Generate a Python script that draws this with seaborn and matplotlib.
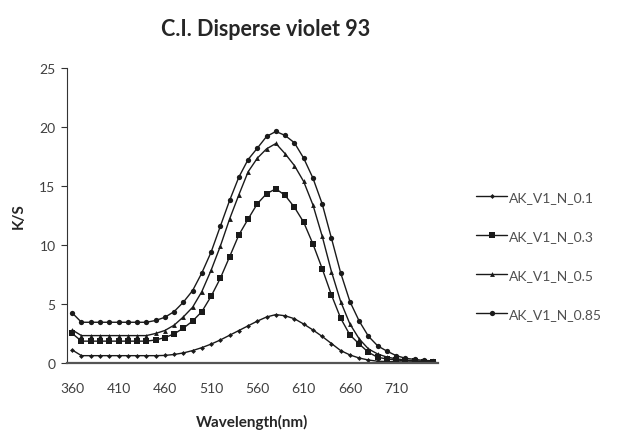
import numpy as np
import pandas as pd
import seaborn as sns
import matplotlib.pyplot as plt

# K/S spectra, 360-750 nm every 10 nm
wavelength = list(range(360, 760, 10))

ks_01 = [1.1, 0.62, 0.62, 0.62, 0.62, 0.62, 0.62, 0.62, 0.62, 0.62,
         0.64, 0.72, 0.85, 1.05, 1.3, 1.6, 1.95, 2.35, 2.75, 3.15,
         3.55, 3.9, 4.1, 4.0, 3.75, 3.3, 2.8, 2.25, 1.65, 1.05,
         0.68, 0.42, 0.25, 0.15, 0.12, 0.1, 0.08, 0.07, 0.06, 0.05]

ks_03 = [2.5, 1.85, 1.85, 1.85, 1.85, 1.85, 1.85, 1.85, 1.85, 1.95,
         2.15, 2.46, 2.95, 3.55, 4.35, 5.65, 7.18, 9.0, 10.85, 12.2,
         13.5, 14.35, 14.76, 14.2, 13.2, 11.93, 10.09, 8.0, 5.77, 3.79,
         2.37, 1.61, 0.9, 0.48, 0.34, 0.25, 0.2, 0.15, 0.12, 0.1]

ks_05 = [2.8, 2.32, 2.32, 2.32, 2.32, 2.32, 2.32, 2.32, 2.32, 2.5,
         2.75, 3.2, 3.9, 4.72, 6.05, 7.85, 9.9, 12.2, 14.25, 16.2,
         17.36, 18.15, 18.6, 17.73, 16.73, 15.38, 13.4, 10.75, 7.75, 5.2,
         3.3, 2.04, 1.19, 0.76, 0.5, 0.35, 0.25, 0.18, 0.14, 0.12]

ks_085 = [4.24, 3.45, 3.45, 3.45, 3.45, 3.45, 3.45, 3.45, 3.45, 3.6,
          3.87, 4.35, 5.15, 6.13, 7.63, 9.39, 11.59, 13.77, 15.75, 17.24,
          18.21, 19.2, 19.62, 19.28, 18.66, 17.36, 15.67, 13.49, 10.58, 7.63,
          5.2, 3.55, 2.26, 1.45, 1.0, 0.62, 0.4, 0.3, 0.22, 0.18]

labels = ["AK_V1_N_0.1", "AK_V1_N_0.3", "AK_V1_N_0.5", "AK_V1_N_0.85"]

df = pd.concat([
    pd.DataFrame({"wl": wavelength, "ks": vals, "sample": name})
    for name, vals in zip(labels, [ks_01, ks_03, ks_05, ks_085])
])

sns.set_style("white")
plt.rcParams["font.family"] = ["Lato", "DejaVu Sans"]

fig = plt.figure(figsize=(6.26, 4.31), dpi=100)
ax = fig.add_axes([0.1065, 0.1555, 0.593, 0.6845])

markers = {"AK_V1_N_0.1": "D", "AK_V1_N_0.3": "s",
           "AK_V1_N_0.5": "^", "AK_V1_N_0.85": "o"}
sizes = {"AK_V1_N_0.1": 2.5, "AK_V1_N_0.3": 4.5,
         "AK_V1_N_0.5": 3.5, "AK_V1_N_0.85": 3.8}

for name in labels:
    sub = df[df["sample"] == name]
    sns.lineplot(data=sub, x="wl", y="ks", ax=ax, color="#1a1a1a",
                 linewidth=1.0, marker=markers[name], markersize=sizes[name],
                 markeredgewidth=0, label=name)

ax.set_xlim(354, 755)
ax.set_ylim(0, 25)
ax.set_xticks(list(range(360, 720, 50)))
ax.set_yticks([0, 5, 10, 15, 20, 25])

for s in ["top", "right"]:
    ax.spines[s].set_visible(False)
ax.spines["left"].set_color("#333333")
ax.spines["bottom"].set_color("#555555")
ax.spines["bottom"].set_linewidth(1.6)
ax.tick_params(axis="x", length=0, pad=14, labelsize=10, labelcolor="#404040")
ax.tick_params(axis="y", length=4, width=0.8, color="#333333", direction="out",
               left=True, pad=4, labelsize=10, labelcolor="#404040")

ax.set_xlabel("Wavelength(nm)", fontsize=11, fontweight="bold", labelpad=14)
ax.set_ylabel("K/S", fontsize=11, fontweight="bold", labelpad=10)
fig.text(0.425, 0.932, "C.I. Disperse violet 93", ha="center", va="center",
         fontsize=15.5, fontweight="bold")

leg = ax.legend(loc="center left", bbox_to_anchor=(1.07, 0.364), frameon=False,
                fontsize=10, labelspacing=1.95, handlelength=2.2,
                handletextpad=0.15)
for t in leg.get_texts():
    t.set_color("#505050")

fig.savefig("out.png", dpi=100)
